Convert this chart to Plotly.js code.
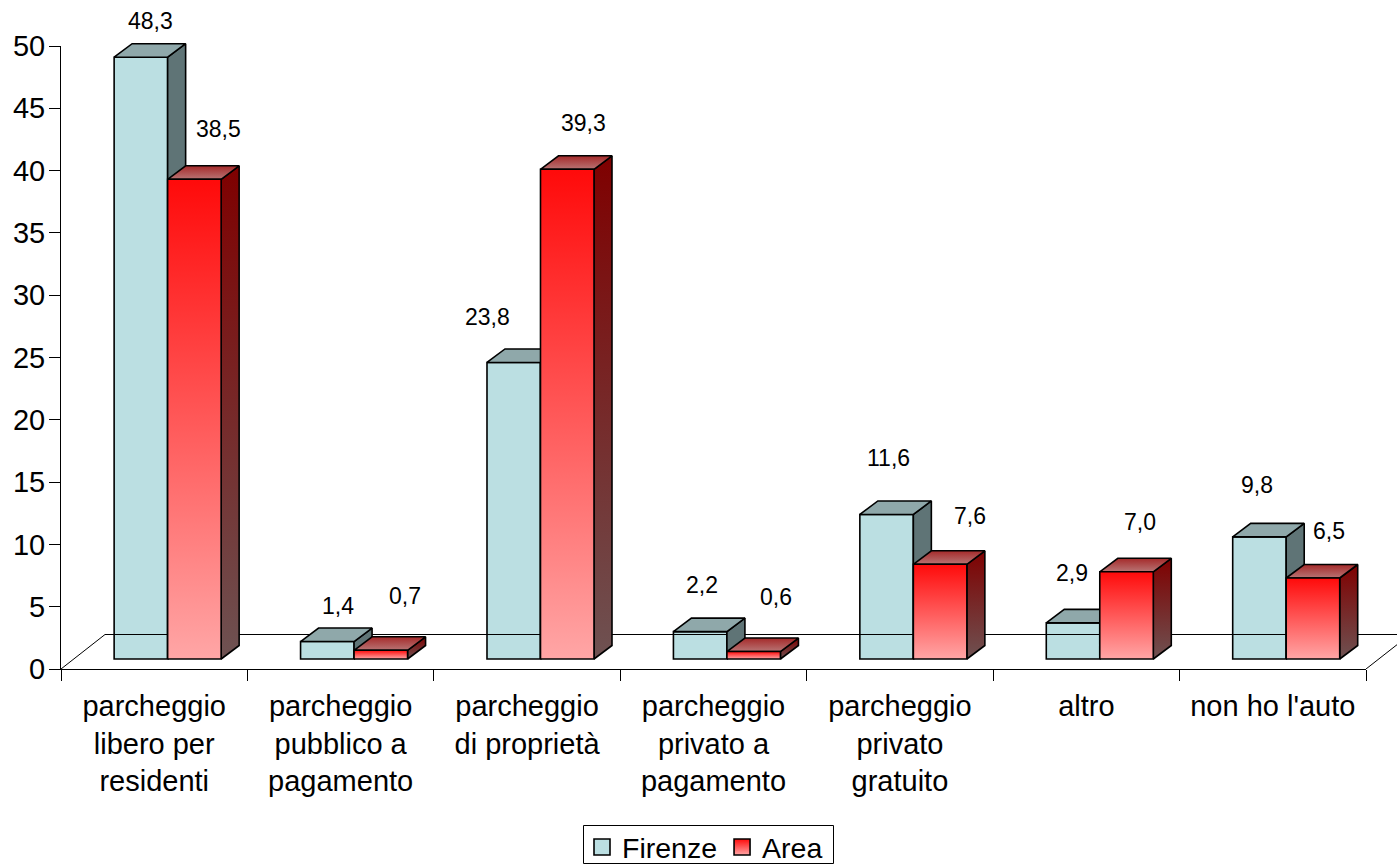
<!DOCTYPE html>
<html>
<head>
<meta charset="utf-8">
<script src="https://cdn.plot.ly/plotly-3.0.1.min.js"></script>
<style>html,body{margin:0;padding:0;background:#fff}</style>
</head>
<body>
<div id="chart" style="width:1397px;height:865px"></div>
<script>
const categories = ["parcheggio<br>libero per<br>residenti","parcheggio<br>pubblico a<br>pagamento","parcheggio<br>di proprietà","parcheggio<br>privato a<br>pagamento","parcheggio<br>privato<br>gratuito","altro","non ho l'auto"];
const firenze = [48.3, 1.4, 23.8, 2.2, 11.6, 2.9, 9.8];
const area = [38.5, 0.7, 39.3, 0.6, 7.6, 7.0, 6.5];
const yTicks = [0,5,10,15,20,25,30,35,40,45,50];
// hand-placed label nudges in the original (pixels from the bar's top centre)
const firenzeShiftX = [10, 11, -26, 2, 2, -1, -2];
const firenzeShiftY = [36, 36, 45, 47, 56, 50, 52];
const areaShiftX = [24, 24, 16, 22, 30, 13, 16];
const areaShiftY = [50, 54, 46, 55, 48, 50, 47];

const FONT = '"Liberation Sans", Arial, sans-serif';
const pxX = 1305 / 7, pxY = 623 / 50; // pixels per axis unit
const plotW = 1336, plotH = 639;      // full drawing area
const base = 10 / pxY;                // bars stand on the floor, above the axis
const barLeft = 0.285, barW = 0.287;
const dX = 18 / pxX, dY = 13.5 / pxY; // bar depth
const floorX = 44 / pxX, floorY = 34.5 / pxY; // floor depth
const EDGE = {color:'#000', width:1.6};
const ON = {xaxis:'x2', yaxis:'y2'};

function poly(xs, ys, fillProps){
  return Object.assign({type:'scatter', mode:'lines', x:xs.concat(xs[0]), y:ys.concat(ys[0]),
    fill:'toself', line:EDGE, showlegend:false, hoverinfo:'skip'}, ON, fillProps);
}
function grad(type, a, b){
  return {fillgradient:{type:type, colorscale:[[0,a],[1,b]]}, fillcolor:a};
}
const traces = [];
// floor outline
traces.push(Object.assign({type:'scatter', mode:'lines', x:[0,floorX,7+floorX,7], y:[0,floorY,floorY,0],
  line:{color:'#000',width:1}, showlegend:false, hoverinfo:'skip'}, ON));
// Firenze fronts as a real bar trace
traces.push(Object.assign({type:'bar', x:firenze.map((v,i)=>i+barLeft+barW/2), y:firenze, base:firenze.map(()=>base),
  width:barW, marker:{color:'#BBDFE2', line:EDGE}, showlegend:false, hoverinfo:'skip'}, ON));

categories.forEach((c,i)=>{
  [[firenze,0],[area,1]].forEach(([vals,s])=>{
    const x0 = i+barLeft+s*barW, x1 = x0+barW, top = base+vals[i];
    const side = s===0 ? {fillcolor:'#5F7476'} : grad('vertical','#6E5252','#7F0000');
    const upper = s===0 ? {fillcolor:'#8FA8AA'} : grad('vertical','#B87474','#A52A2A');
    traces.push(poly([x1,x1+dX,x1+dX,x1],[base,base+dY,top+dY,top], side));
    traces.push(poly([x0,x1,x1+dX,x0+dX],[top,top,top+dY,top+dY], upper));
    if(s===1) traces.push(poly([x0,x1,x1,x0],[base,base,top,top], grad('vertical','#FFA6A6','#FF0A0A')));
  });
});
// legend entries (their points lie outside the axis range)
traces.push({type:'scatter', mode:'markers', name:'Firenze', x:[-5], y:[-5],
  marker:{symbol:'square', size:16, color:'#BBDFE2', line:{color:'#000',width:1.6}}, hoverinfo:'skip'});
traces.push({type:'scatter', mode:'markers', name:'Area', x:[-5], y:[-5],
  marker:{symbol:'square', size:16, color:'#FF0A0A', gradient:{type:'vertical', color:'#FFA6A6'}, line:{color:'#000',width:1.6}}, hoverinfo:'skip'});

const fmt = v => v.toFixed(1).replace('.', ',');
const annotations = [];
categories.forEach((c,i)=>{
  [[firenze,firenzeShiftX,firenzeShiftY,0],[area,areaShiftX,areaShiftY,1]].forEach(([vals,sx,sy,s])=>{
    annotations.push({x:i+barLeft+s*barW+barW/2, y:base+vals[i], xref:'x2', yref:'y2', text:fmt(vals[i]),
      showarrow:false, xshift:sx[i], yshift:sy[i], xanchor:'center', yanchor:'middle',
      font:{family:FONT,size:23,color:'#000'}});
  });
});

const layout = {
  width:1397, height:865, autosize:false, paper_bgcolor:'#fff', plot_bgcolor:'rgba(0,0,0,0)',
  margin:{l:61,r:0,t:30,b:196,pad:0}, barmode:'overlay', hovermode:false,
  font:{family:FONT,size:29,color:'#000'},
  xaxis:{type:'linear', range:[0,7], domain:[0,1305/plotW], tickmode:'array', tickvals:categories.map((c,i)=>i+0.5), ticktext:categories,
    ticks:'', showgrid:false, zeroline:false, showline:true, linecolor:'#000', linewidth:1,
    tickangle:0, ticklabelstandoff:11, tickfont:{family:FONT,size:29,color:'#000'},
    minor:{tickmode:'array', tickvals:[0,1,2,3,4,5,6,7], ticks:'outside', ticklen:11, tickcolor:'#000', tickwidth:1, showgrid:false}},
  yaxis:{range:[0,50], domain:[0,623/plotH], tickmode:'array', tickvals:yTicks, ticktext:yTicks.map(String), ticks:'outside', ticklen:11,
    tickcolor:'#000', tickwidth:1, showgrid:false, zeroline:false, showline:true, linecolor:'#000', linewidth:1,
    tickfont:{family:FONT,size:29,color:'#000'}, ticklabelstandoff:-2},
  xaxis2:{type:'linear', range:[0,plotW/pxX], domain:[0,1], anchor:'y2', visible:false},
  yaxis2:{range:[0,plotH/pxY], domain:[0,1], anchor:'x2', visible:false},
  legend:{orientation:'h', xref:'container', x:705/1397, xanchor:'center', yref:'container', y:(865-822)/865, yanchor:'top',
    borderwidth:0, bgcolor:'rgba(0,0,0,0)', font:{family:FONT,size:28.5,color:'#000'}, itemsizing:'trace'},
  shapes:[{type:'rect', xref:'paper', yref:'paper', layer:'below',
    x0:(583.5-61)/plotW, x1:(833.5-61)/plotW, y0:-(825.5-669)/plotH, y1:-(863.5-669)/plotH,
    line:{color:'#000',width:1}, fillcolor:'#fff'}],
  annotations:annotations
};
Plotly.newPlot('chart', traces, layout, {displayModeBar:false, staticPlot:true});
</script>
</body>
</html>
